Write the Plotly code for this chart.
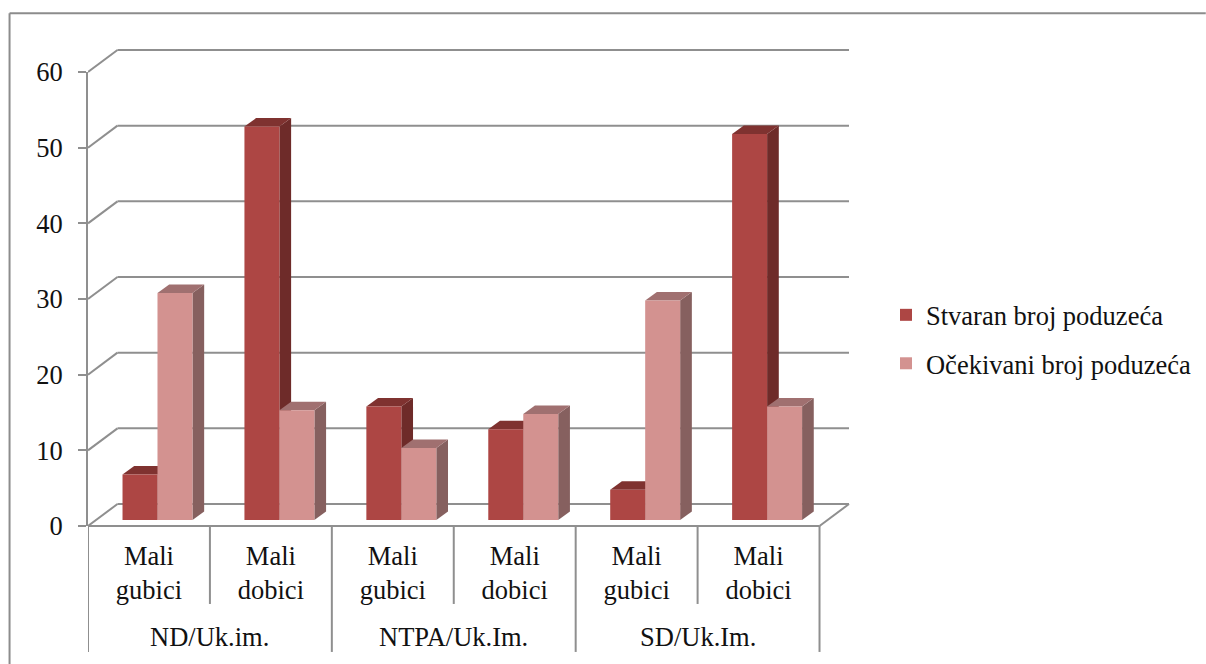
import plotly.graph_objects as go

categories = ["Mali<br>gubici", "Mali<br>dobici"] * 3
groups = ["ND/Uk.im.", "NTPA/Uk.Im.", "SD/Uk.Im."]
stvaran = [6, 52, 15, 12, 4, 51]
ocekivani = [30, 14.5, 9.5, 14, 29, 15]
y_ticks = [0, 10, 20, 30, 40, 50, 60]
series_names = ["Stvaran broj poduzeća", "Očekivani broj poduzeća"]

W, H = 1206, 664
PX_PER_CAT = 122.0
PX_PER_UNIT = 7.57
LEFT, BOTTOM = 87.5, 526.0
RIGHT = 856.0
TOP = BOTTOM - 60 * PX_PER_UNIT
FONT = "Liberation Serif"
GRID = "#8f8f8f"
TEXT = "#111111"
FS = 26.5

dx_wall = (117 - LEFT) / PX_PER_CAT
dy_wall = (526 - 504) / PX_PER_UNIT
dy_floor = (526 - 520) / PX_PER_UNIT
dx_bar = 35 / PX_PER_CAT
dx_depth = 11.7 / PX_PER_CAT
dy_depth = 8.5 / PX_PER_UNIT
shift = 0.07


def px(x):
    return (x - LEFT) / (RIGHT - LEFT)


def py(y):
    return (BOTTOM - y) / (BOTTOM - TOP)


def poly(pts, color):
    path = "M" + " L".join(f"{x},{y}" for x, y in pts) + " Z"
    return dict(type="path", path=path, xref="x", yref="y", fillcolor=color,
                line=dict(width=0), layer="below")


def line(x0, y0, x1, y1, width=2):
    # x in data units, y given as a fraction of the 0-60 axis so nothing is clipped above 60
    return dict(type="line", x0=x0, y0=y0, x1=x1, y1=y1, xref="x", yref="paper",
                line=dict(color=GRID, width=width), layer="below")


shapes = []
for v in y_ticks:
    shapes.append(line(0, v / 60, dx_wall, (v + dy_wall) / 60))
    shapes.append(line(dx_wall, (v + dy_wall) / 60, 6 + dx_wall, (v + dy_wall) / 60))
shapes.append(line(6, 0, 6 + dx_wall, dy_wall / 60))
shapes.append(line(0, 0, 6, 0))

x_first, x_second = [], []
for i in range(6):
    left1 = i + 0.5 + shift - dx_bar
    mid = i + 0.5 + shift
    x_first.append(left1 + dx_bar / 2)
    x_second.append(mid + dx_bar / 2)
    for x0, v, top_c, side_c in [(left1, stvaran[i], "#7f3230", "#6e2b29"),
                                 (mid, ocekivani[i], "#a07070", "#86605f")]:
        x1 = x0 + dx_bar
        t = v + dy_floor
        shapes.append(poly([(x1, dy_floor), (x1 + dx_depth, dy_floor + dy_depth),
                            (x1 + dx_depth, t + dy_depth), (x1, t)], side_c))
        shapes.append(poly([(x0, t), (x0 + dx_depth, t + dy_depth),
                            (x1 + dx_depth, t + dy_depth), (x1, t)], top_c))

for i in range(7):
    bottom = 652 if i % 2 == 0 else 604
    shapes.append(line(i, py(526), i, py(bottom)))

frame = dict(color="#8c8c8c", width=2)
shapes.append(dict(type="line", xref="paper", yref="paper", x0=px(9), x1=px(W), y0=py(13), y1=py(13), line=frame))
shapes.append(dict(type="line", xref="paper", yref="paper", x0=px(9), x1=px(9), y0=py(13), y1=py(H), line=frame))

fig = go.Figure()
fig.add_bar(x=x_first, y=stvaran, base=dy_floor, width=dx_bar, name=series_names[0],
            marker=dict(color="#ad4644", line=dict(width=0)), legendgroup="a")
fig.add_bar(x=x_second, y=ocekivani, base=dy_floor, width=dx_bar, name=series_names[1],
            marker=dict(color="#d39290", line=dict(width=0)), legendgroup="b")

annotations = [dict(text=g, x=1 + 2 * k, y=py(637), xref="x", yref="paper", showarrow=False,
                    xanchor="center", yanchor="middle",
                    font=dict(family=FONT, size=FS, color=TEXT))
               for k, g in enumerate(groups)]

fig.update_layout(
    width=W, height=H, autosize=False, barmode="overlay",
    margin=dict(l=LEFT, r=W - RIGHT, t=TOP, b=H - BOTTOM, pad=0, autoexpand=False),
    paper_bgcolor="white", plot_bgcolor="rgba(0,0,0,0)",
    font=dict(family=FONT, size=FS, color=TEXT),
    shapes=shapes, annotations=annotations,
    legend=dict(x=px(886), y=py(291), xanchor="left", yanchor="top",
                font=dict(family=FONT, size=FS, color=TEXT),
                tracegroupgap=11, bgcolor="rgba(0,0,0,0)"),
    xaxis=dict(range=[0, (RIGHT - LEFT) / PX_PER_CAT], tickmode="array",
               tickvals=[i + 0.5 for i in range(6)], ticktext=categories,
               ticks="", showgrid=False, zeroline=False, showline=False,
               tickfont=dict(family=FONT, size=FS, color=TEXT), ticklabelstandoff=11, fixedrange=True),
    yaxis=dict(range=[0, 60], tickmode="array",
               tickvals=y_ticks, ticktext=[str(v) for v in y_ticks],
               ticks="outside", ticklen=8, tickwidth=2, tickcolor=GRID,
               showline=True, linecolor=GRID, linewidth=2, showgrid=False, zeroline=False,
               tickfont=dict(family=FONT, size=FS, color=TEXT), ticklabelstandoff=10, fixedrange=True),
)
fig.write_html("out.html", config={"displayModeBar": False},
               post_script="document.body.style.margin='0';")
